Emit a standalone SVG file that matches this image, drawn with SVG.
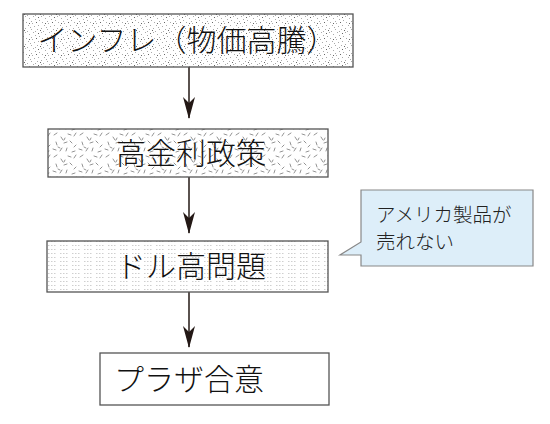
<svg xmlns="http://www.w3.org/2000/svg" width="550" height="424" viewBox="0 0 550 424">
<style>
.box{stroke:#555;stroke-width:1.3}
.lbl{font-family:"Noto Sans CJK JP","Noto Sans",sans-serif;font-size:30px;font-weight:300;fill:#111;text-anchor:middle}
.note{font-family:"Noto Sans CJK JP","Noto Sans",sans-serif;font-size:19.5px;font-weight:300;fill:#222}
.conn{stroke:#231815;stroke-width:1.5;fill:none}
</style>
<defs>
<marker id="ah" viewBox="0 0 22 12" refX="21" refY="6" markerWidth="22" markerHeight="12" markerUnits="userSpaceOnUse" orient="auto">
<path d="M0,0 L22,6 L0,12 L6,6 Z" fill="#231815"/>
</marker>
<pattern id="stipple" width="16" height="16" patternUnits="userSpaceOnUse">
<rect width="16" height="16" fill="#fff"/>
<g fill="#aaa">
<rect x="1" y="0" width="1" height="1"/><rect x="9" y="0" width="1" height="1"/><rect x="13" y="2" width="1" height="1"/>
<rect x="3" y="3" width="1" height="1"/><rect x="7" y="4" width="1" height="1"/><rect x="15" y="5" width="1" height="1"/>
<rect x="0" y="7" width="1" height="1"/><rect x="10" y="6" width="1" height="1"/><rect x="12" y="9" width="1" height="1"/>
<rect x="2" y="10" width="1" height="1"/><rect x="6" y="9" width="1" height="1"/><rect x="14" y="11" width="1" height="1"/>
<rect x="5" y="13" width="1" height="1"/><rect x="9" y="12" width="1" height="1"/>
<rect x="3" y="15" width="1" height="1"/><rect x="11" y="15" width="1" height="1"/><rect x="15" y="13" width="1" height="1"/>
</g>
<g fill="#666">
<rect x="6" y="1" width="1" height="1"/><rect x="13" y="7" width="1" height="1"/><rect x="4" y="6" width="1" height="1"/><rect x="8" y="14" width="1" height="1"/>
</g>
</pattern>
<pattern id="confetti" width="26" height="22" patternUnits="userSpaceOnUse">
<rect width="26" height="22" fill="#fff"/>
<g stroke="#777" stroke-width="0.8" stroke-linecap="round">
<path d="M2,3 l3,-2"/><path d="M9,5 l2,3"/><path d="M16,2 l3,1"/><path d="M22,4 l2,-3"/>
<path d="M4,10 l1,3"/><path d="M12,11 l3,-1"/><path d="M18,9 l2,2"/><path d="M24,13 l-2,2"/>
<path d="M1,17 l3,1"/><path d="M8,19 l2,-3"/><path d="M15,16 l-1,3"/><path d="M20,20 l3,-1"/>
<path d="M6,15 l2,1"/><path d="M13,6 l-1,2"/>
</g>
</pattern>
<pattern id="dashrows" width="12" height="4" patternUnits="userSpaceOnUse">
<rect width="12" height="4" fill="#fff"/>
<g fill="#c4c4c4">
<rect x="0" y="1" width="1.5" height="0.8"/><rect x="3" y="1" width="1.5" height="0.8"/><rect x="6" y="1" width="1.5" height="0.8"/>
</g>
</pattern>
</defs>

<g id="connectors">
<line class="conn" x1="189" y1="67" x2="189" y2="118" marker-end="url(#ah)"/>
<line class="conn" x1="189" y1="177" x2="189" y2="233" marker-end="url(#ah)"/>
<line class="conn" x1="189" y1="292" x2="189" y2="347" marker-end="url(#ah)"/>
</g>

<g id="node-inflation">
<rect class="box" x="23" y="14" width="330" height="53" fill="url(#stipple)"/>
<text class="lbl" x="187" y="51">インフレ（物価高騰）</text>
</g>
<g id="node-highrate">
<rect class="box" x="48" y="129" width="280" height="48" fill="url(#confetti)"/>
<text class="lbl" x="191" y="164">高金利政策</text>
</g>
<g id="node-strongdollar">
<rect class="box" x="47" y="241" width="281" height="51" fill="url(#dashrows)" stroke="#999"/>
<text class="lbl" x="191" y="277">ドル高問題</text>
</g>
<g id="node-plaza">
<rect class="box" x="100" y="353" width="229" height="52" fill="#fff"/>
<text class="lbl" x="189" y="390">プラザ合意</text>
</g>
<g id="callout">
<path d="M361,190 L533,190 L533,266 L361,266 L361,255 L340,255 L361,242 Z" fill="#ddeef9" stroke="#888" stroke-width="1.2"/>
<text class="note" x="376" y="222">アメリカ製品が</text>
<text class="note" x="376" y="249">売れない</text>
</g>
</svg>
